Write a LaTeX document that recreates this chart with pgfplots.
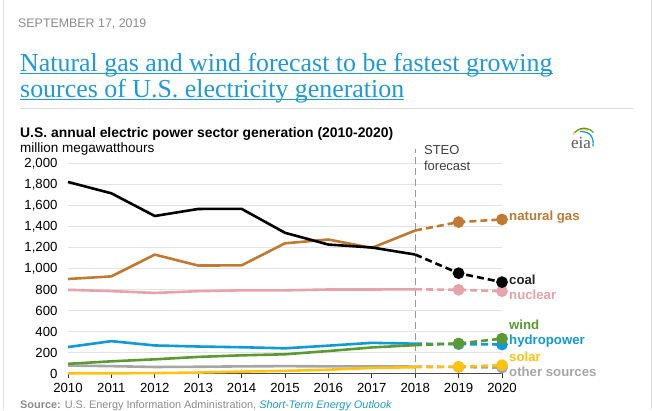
\documentclass[border=0pt]{standalone}
\usepackage{fontspec}
\setmainfont{Liberation Sans}
\newfontfamily\seriffont{Liberation Serif}
\usepackage{pgfplots}
\pgfplotsset{compat=1.18}
\definecolor{coalc}{HTML}{000000}
\definecolor{gasc}{HTML}{C27A33}
\definecolor{nucc}{HTML}{E8A2A9}
\definecolor{windc}{HTML}{5B9A32}
\definecolor{hydc}{HTML}{0F9AD8}
\definecolor{solc}{HTML}{FFC20E}
\definecolor{othc}{HTML}{A6A6A6}
\definecolor{headc}{HTML}{1F9AD6}
\definecolor{datec}{HTML}{8C8C8C}
\definecolor{gridc}{HTML}{E3E3E3}
\begin{document}
\begin{tikzpicture}[x=1pt,y=1pt]
\fill[white] (0,0) rectangle (652,410);
\draw[gray!25,line width=1pt] (3,0)--(3,410);
\draw[gray!25,line width=1pt] (651,0)--(651,410);
% header
\node[anchor=base west,inner sep=0,text=datec,font=\fontsize{12.4}{14}\selectfont] at (18,410-27) {SEPTEMBER 17, 2019};
\node[anchor=base west,inner sep=0,text=headc,font=\seriffont\fontsize{25.9}{28}\selectfont] (h1) at (20,410-70.7) {Natural gas and wind forecast to be fastest growing};
\node[anchor=base west,inner sep=0,text=headc,font=\seriffont\fontsize{25.9}{28}\selectfont] (h2) at (20,410-96.7) {sources of U.S. electricity generation};
\draw[headc,line width=1.6pt] ([yshift=-2.4pt]h1.base west) -- ([yshift=-2.4pt]h1.base east);
\draw[headc,line width=1.6pt] ([yshift=-2.4pt]h2.base west) -- ([yshift=-2.4pt]h2.base east);
\draw[gray!30,line width=1pt] (20,410-108) -- (633,410-108);
\node[anchor=base west,inner sep=0,font=\bfseries\fontsize{13.9}{15}\selectfont] at (20,410-137.3) {U.S. annual electric power sector generation (2010-2020)};
\node[anchor=base west,inner sep=0,font=\fontsize{13.5}{15}\selectfont] at (20,410-152.5) {million megawatthours};
% eia logo
\node[anchor=base,inner sep=0,text=black!65,font=\seriffont\fontsize{17}{18}\selectfont] at (581,410-148) {eia};
\draw[solc,line width=1.2pt] (573,410-134) arc[start angle=150,end angle=60,radius=11];
\draw[windc,line width=1.2pt] (575,410-132) arc[start angle=140,end angle=40,radius=12];
\draw[hydc,line width=1.2pt] (580,410-131) .. controls (590,410-131) and (594,410-136) .. (593,410-146);
% source
\node[anchor=base west,inner sep=0,text=datec,font=\fontsize{10.9}{12}\selectfont] at (20,410-408) {\textbf{Source:} U.S. Energy Information Administration, \textcolor{headc}{\itshape Short-Term Energy Outlook}};
\begin{axis}[
  at={(68pt,37pt)}, anchor=south west,
  scale only axis, width=434pt, height=210pt,
  xmin=2010, xmax=2020, ymin=0, ymax=2000,
  clip=false,
  axis x line*=bottom, axis y line*=left,
  y axis line style={draw=none},
  x axis line style={-,draw=black!70,line width=0.8pt},
  xtick={2010,2011,...,2020},
  ytick={0,200,...,2000},
  tick align=outside,
  major tick length=5pt,
  xtick style={draw=black!80,line width=0.8pt},
  ytick style={draw=none},
  ymajorgrids, grid style={gridc,line width=1.6pt},
  /pgf/number format/assume math mode=true,
  x tick label style={/pgf/number format/1000 sep={},font=\fontsize{13.2}{15}\selectfont,yshift=-1pt},
  y tick label style={/pgf/number format/1000 sep={,},font=\fontsize{13.2}{15}\selectfont,xshift=-2pt},
  every axis plot/.append style={line width=2.6pt},
]
% STEO line
\draw[gray!80,line width=1pt,dash pattern=on 7pt off 4pt] (axis cs:2018,0) -- (axis cs:2018,2140);
\node[anchor=north west,align=left,inner sep=0,text=black!75,font=\fontsize{13}{15.5}\selectfont] at (axis cs:2018.2,2170) {STEO\\forecast};
% other sources
\addplot[othc] coordinates {(2010,76)(2011,70)(2012,62)(2013,64)(2014,68)(2015,70)(2016,68)(2017,67)(2018,66)};
\addplot[othc,dash pattern=on 7pt off 4pt,mark=*,mark size=4.5pt,mark indices={2,3},mark options={solid}] coordinates {(2018,66)(2019,62)(2020,56)};
% solar
\addplot[solc] coordinates {(2010,1)(2011,2)(2012,4)(2013,9)(2014,18)(2015,25)(2016,36)(2017,53)(2018,60)};
\addplot[solc,dash pattern=on 7pt off 4pt,mark=*,mark size=4.5pt,mark indices={2,3},mark options={solid}] coordinates {(2018,60)(2019,64)(2020,80)};
% hydro
\addplot[hydc] coordinates {(2010,252)(2011,308)(2012,267)(2013,257)(2014,250)(2015,240)(2016,265)(2017,292)(2018,284)};
\addplot[hydc,dash pattern=on 7pt off 4pt,mark=*,mark size=4.5pt,mark indices={2,3},mark options={solid}] coordinates {(2018,284)(2019,280)(2020,276)};
% wind
\addplot[windc] coordinates {(2010,92)(2011,116)(2012,135)(2013,158)(2014,173)(2015,183)(2016,214)(2017,248)(2018,270)};
\addplot[windc,dash pattern=on 7pt off 4pt,mark=*,mark size=4.5pt,mark indices={2,3},mark options={solid}] coordinates {(2018,270)(2019,286)(2020,332)};
% nuclear
\addplot[nucc] coordinates {(2010,797)(2011,785)(2012,767)(2013,784)(2014,792)(2015,792)(2016,800)(2017,800)(2018,802)};
\addplot[nucc,dash pattern=on 7pt off 4pt,mark=*,mark size=4.5pt,mark indices={2,3},mark options={solid}] coordinates {(2018,802)(2019,797)(2020,784)};
% natural gas
\addplot[gasc] coordinates {(2010,900)(2011,925)(2012,1132)(2013,1028)(2014,1030)(2015,1240)(2016,1276)(2017,1196)(2018,1362)};
\addplot[gasc,dash pattern=on 7pt off 4pt,mark=*,mark size=4.5pt,mark indices={2,3},mark options={solid}] coordinates {(2018,1362)(2019,1442)(2020,1467)};
% coal
\addplot[coalc] coordinates {(2010,1824)(2011,1716)(2012,1500)(2013,1567)(2014,1568)(2015,1340)(2016,1228)(2017,1200)(2018,1133)};
\addplot[coalc,dash pattern=on 7pt off 4pt,mark=*,mark size=4.5pt,mark indices={2,3},mark options={solid}] coordinates {(2018,1133)(2019,955)(2020,870)};
% labels
\def\lab#1#2#3{\node[anchor=west,inner sep=0,text=#1,font=\bfseries\fontsize{13.2}{15}\selectfont] at (axis cs:2020,#2) [xshift=7pt] {#3};}
\lab{gasc}{1486}{natural gas}
\lab{coalc!85}{895}{coal}
\lab{nucc}{752}{nuclear}
\lab{windc}{467}{wind}
\lab{hydc}{305}{hydropower}
\lab{solc}{162}{solar}
\lab{othc}{19}{other sources}
\end{axis}
\end{tikzpicture}
\end{document}
